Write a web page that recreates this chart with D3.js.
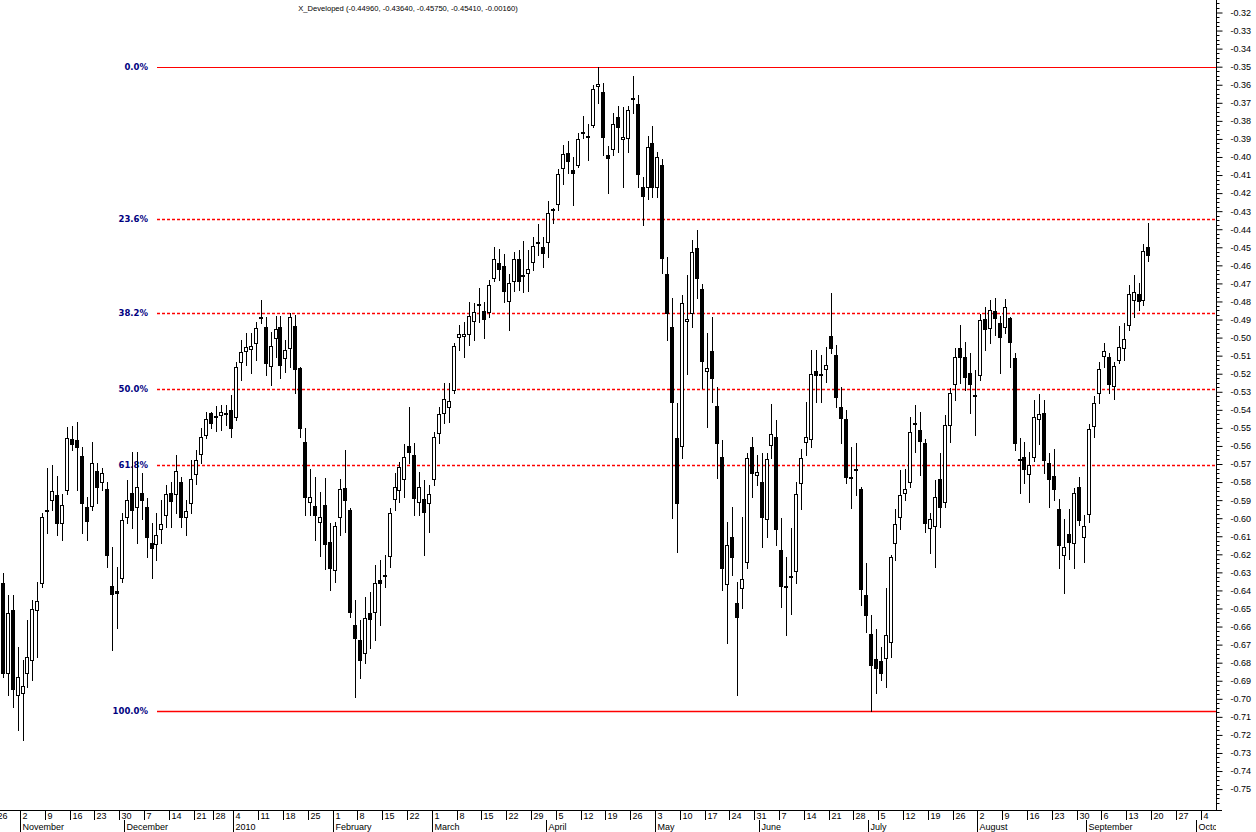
<!DOCTYPE html>
<html><head><meta charset="utf-8">
<script src="https://cdn.jsdelivr.net/npm/d3@7/dist/d3.min.js"></script>
<style>html,body{margin:0;padding:0;background:#fff;}svg{display:block;}</style>
</head><body>
<svg id="chart" width="1256" height="832"></svg>
<script>
const titleText = "X_Developed (-0.44960, -0.43640, -0.45750, -0.45410, -0.00160)";

const leadDates = ["2009-10-26"];
const candleDates = [
"2009-10-27","2009-10-28","2009-10-29","2009-10-30",
"2009-11-02","2009-11-03","2009-11-04","2009-11-05","2009-11-06",
"2009-11-09","2009-11-10","2009-11-11","2009-11-12","2009-11-13",
"2009-11-16","2009-11-17","2009-11-18","2009-11-19","2009-11-20",
"2009-11-23","2009-11-24","2009-11-25","2009-11-26","2009-11-27",
"2009-11-30","2009-12-01","2009-12-02","2009-12-03","2009-12-04",
"2009-12-07","2009-12-08","2009-12-09","2009-12-10","2009-12-11",
"2009-12-14","2009-12-15","2009-12-16","2009-12-17","2009-12-18",
"2009-12-21","2009-12-22","2009-12-23","2009-12-24",
"2009-12-28","2009-12-29","2009-12-30","2009-12-31",
"2010-01-04","2010-01-05","2010-01-06","2010-01-07","2010-01-08",
"2010-01-11","2010-01-12","2010-01-13","2010-01-14","2010-01-15",
"2010-01-18","2010-01-19","2010-01-20","2010-01-21","2010-01-22",
"2010-01-25","2010-01-26","2010-01-27","2010-01-28","2010-01-29",
"2010-02-01","2010-02-02","2010-02-03","2010-02-04","2010-02-05",
"2010-02-08","2010-02-09","2010-02-10","2010-02-11","2010-02-12",
"2010-02-15","2010-02-16","2010-02-17","2010-02-18","2010-02-19",
"2010-02-22","2010-02-23","2010-02-24","2010-02-25","2010-02-26",
"2010-03-01","2010-03-02","2010-03-03","2010-03-04","2010-03-05",
"2010-03-08","2010-03-09","2010-03-10","2010-03-11","2010-03-12",
"2010-03-15","2010-03-16","2010-03-17","2010-03-18","2010-03-19",
"2010-03-22","2010-03-23","2010-03-24","2010-03-25","2010-03-26",
"2010-03-29","2010-03-30","2010-03-31","2010-04-01","2010-04-02",
"2010-04-05","2010-04-06","2010-04-07","2010-04-08","2010-04-09",
"2010-04-12","2010-04-13","2010-04-14","2010-04-15","2010-04-16",
"2010-04-19","2010-04-20","2010-04-21","2010-04-22","2010-04-23",
"2010-04-26","2010-04-27","2010-04-28","2010-04-29","2010-04-30",
"2010-05-03","2010-05-04","2010-05-05","2010-05-06","2010-05-07",
"2010-05-10","2010-05-11","2010-05-12","2010-05-13","2010-05-14",
"2010-05-17","2010-05-18","2010-05-19","2010-05-20","2010-05-21",
"2010-05-24","2010-05-25","2010-05-26","2010-05-27","2010-05-28",
"2010-05-31","2010-06-01","2010-06-02","2010-06-03","2010-06-04",
"2010-06-07","2010-06-08","2010-06-09","2010-06-10","2010-06-11",
"2010-06-14","2010-06-15","2010-06-16","2010-06-17","2010-06-18",
"2010-06-21","2010-06-22","2010-06-23","2010-06-24","2010-06-25",
"2010-06-28","2010-06-29","2010-06-30","2010-07-01","2010-07-02",
"2010-07-05","2010-07-06","2010-07-07","2010-07-08","2010-07-09",
"2010-07-12","2010-07-13","2010-07-14","2010-07-15","2010-07-16",
"2010-07-19","2010-07-20","2010-07-21","2010-07-22","2010-07-23",
"2010-07-26","2010-07-27","2010-07-28","2010-07-29","2010-07-30",
"2010-08-02","2010-08-03","2010-08-04","2010-08-05","2010-08-06",
"2010-08-09","2010-08-10","2010-08-11","2010-08-12","2010-08-13",
"2010-08-16","2010-08-17","2010-08-18","2010-08-19","2010-08-20",
"2010-08-23","2010-08-24","2010-08-25","2010-08-26","2010-08-27",
"2010-08-30","2010-08-31","2010-09-01","2010-09-02","2010-09-03",
"2010-09-06","2010-09-07","2010-09-08","2010-09-09","2010-09-10",
"2010-09-13","2010-09-14","2010-09-15","2010-09-16","2010-09-17"
];
const trailDates = ["2010-09-20","2010-09-21","2010-09-22","2010-09-23","2010-09-24",
"2010-09-27","2010-09-28","2010-09-29","2010-09-30","2010-10-01",
"2010-10-04","2010-10-05","2010-10-06","2010-10-07","2010-10-08"];

const open = [
-0.6359,-0.6857,-0.6510,-0.6980,-0.6970,-0.6857,-0.6785,-0.6509,-0.6359,-0.5958,
-0.5899,-0.5871,-0.6027,-0.5844,-0.5562,-0.5568,-0.5657,-0.5938,-0.5932,-0.5740,
-0.5799,-0.5838,-0.6376,-0.6403,-0.6331,-0.5993,-0.5863,-0.5938,-0.5863,-0.5938,
-0.6138,-0.6143,-0.6060,-0.5982,-0.5863,-0.5866,-0.5799,-0.5993,-0.5916,-0.5756,
-0.5645,-0.5540,-0.5418,-0.5436,-0.5429,-0.5420,-0.5401,-0.5440,-0.5135,-0.5074,
-0.5063,-0.5030,-0.4890,-0.4941,-0.5157,-0.5002,-0.4941,-0.5113,-0.5058,-0.4936,
-0.5169,-0.5579,-0.5910,-0.5932,-0.6021,-0.5927,-0.6132,-0.6287,-0.5993,-0.5833,
-0.5955,-0.6592,-0.6675,-0.6747,-0.6525,-0.6520,-0.6342,-0.6317,-0.6210,-0.5893,
-0.5844,-0.5784,-0.5601,-0.5651,-0.5910,-0.5893,-0.5916,-0.5784,-0.5529,-0.5418,
-0.5385,-0.5291,-0.4997,-0.4991,-0.4980,-0.4908,-0.4817,-0.4853,-0.4858,-0.4671,
-0.4588,-0.4604,-0.4798,-0.4687,-0.4566,-0.4658,-0.4643,-0.4582,-0.4474,-0.4500,
-0.4472,-0.4291,-0.4261,-0.4062,-0.3978,-0.4073,-0.4045,-0.3864,-0.3886,-0.3823,
-0.3608,-0.3640,-0.3989,-0.3956,-0.3779,-0.3901,-0.3895,-0.3675,-0.3707,-0.4167,
-0.4167,-0.3923,-0.4167,-0.4045,-0.4650,-0.4941,-0.5557,-0.5601,-0.4908,-0.4864,
-0.4505,-0.4731,-0.5185,-0.5074,-0.5379,-0.5662,-0.6365,-0.6104,-0.6469,-0.6387,
-0.6243,-0.5607,-0.5762,-0.5799,-0.6004,-0.5596,-0.5551,-0.6176,-0.6378,-0.6322,
-0.6293,-0.5804,-0.5579,-0.5562,-0.5185,-0.5204,-0.5174,-0.4991,-0.5096,-0.5385,
-0.5451,-0.5775,-0.5731,-0.5840,-0.6425,-0.6642,-0.6780,-0.6791,-0.6774,-0.6686,
-0.6138,-0.5993,-0.5862,-0.5799,-0.5475,-0.5512,-0.5584,-0.6054,-0.6043,-0.5784,
-0.5910,-0.5484,-0.5257,-0.5058,-0.5108,-0.5196,-0.5320,-0.5207,-0.4897,-0.4947,
-0.4853,-0.4920,-0.4942,-0.4892,-0.5113,-0.5675,-0.5662,-0.5756,-0.5662,-0.5451,
-0.5418,-0.5696,-0.5767,-0.5949,-0.6204,-0.6088,-0.6138,-0.5827,-0.6104,-0.5977,
-0.5490,-0.5307,-0.5102,-0.5108,-0.5268,-0.5124,-0.5058,-0.4930,-0.4790,-0.4760,
-0.4790,-0.4496
];
const high = [
-0.6303,-0.6425,-0.6425,-0.6715,-0.6785,-0.6564,-0.6453,-0.6353,-0.5971,-0.5724,
-0.5707,-0.5766,-0.5865,-0.5496,-0.5490,-0.5468,-0.5606,-0.5883,-0.5579,-0.5695,
-0.5724,-0.5799,-0.6160,-0.6270,-0.5971,-0.5788,-0.5634,-0.5634,-0.5749,-0.5888,
-0.6027,-0.5971,-0.5900,-0.5816,-0.5799,-0.5651,-0.5771,-0.5900,-0.5679,-0.5623,
-0.5501,-0.5413,-0.5413,-0.5379,-0.5374,-0.5374,-0.5318,-0.5135,-0.5013,-0.4975,
-0.4975,-0.4913,-0.4793,-0.4886,-0.4969,-0.4880,-0.4880,-0.5013,-0.4864,-0.4875,
-0.5163,-0.5501,-0.5729,-0.5771,-0.5857,-0.5779,-0.6027,-0.6021,-0.5782,-0.5623,
-0.5944,-0.6453,-0.6564,-0.6436,-0.6409,-0.6260,-0.6232,-0.6204,-0.5944,-0.5749,
-0.5690,-0.5590,-0.5385,-0.5585,-0.5743,-0.5788,-0.5816,-0.5523,-0.5385,-0.5252,
-0.5252,-0.5030,-0.4930,-0.4913,-0.4804,-0.4809,-0.4727,-0.4804,-0.4681,-0.4500,
-0.4511,-0.4538,-0.4648,-0.4527,-0.4516,-0.4467,-0.4516,-0.4444,-0.4372,-0.4444,
-0.4244,-0.4283,-0.4067,-0.3934,-0.3912,-0.4001,-0.3868,-0.3773,-0.3818,-0.3602,
-0.3500,-0.3591,-0.3940,-0.3757,-0.3718,-0.3723,-0.3718,-0.3552,-0.3657,-0.4111,
-0.3884,-0.3829,-0.3973,-0.4012,-0.4555,-0.4781,-0.5363,-0.4764,-0.4654,-0.4461,
-0.4405,-0.4704,-0.4975,-0.4886,-0.5274,-0.5568,-0.6021,-0.5938,-0.6353,-0.5993,
-0.5640,-0.5551,-0.5651,-0.5640,-0.5640,-0.5368,-0.5457,-0.5999,-0.6215,-0.6054,
-0.5799,-0.5618,-0.5357,-0.5069,-0.5069,-0.5096,-0.5052,-0.4753,-0.5041,-0.5274,
-0.5401,-0.5607,-0.5584,-0.5827,-0.6248,-0.6536,-0.6614,-0.6713,-0.6387,-0.6204,
-0.5949,-0.5733,-0.5729,-0.5440,-0.5374,-0.5412,-0.5562,-0.5971,-0.5788,-0.5640,
-0.5429,-0.5279,-0.5058,-0.4930,-0.5024,-0.5085,-0.5180,-0.4870,-0.4831,-0.4792,
-0.4782,-0.4881,-0.4787,-0.4886,-0.5085,-0.5557,-0.5579,-0.5634,-0.5346,-0.5313,
-0.5346,-0.5640,-0.5618,-0.5893,-0.6004,-0.5949,-0.5832,-0.5771,-0.5982,-0.5479,
-0.5324,-0.5135,-0.5030,-0.5085,-0.5135,-0.4936,-0.4919,-0.4709,-0.4653,-0.4700,
-0.4480,-0.4364
];
const low = [
-0.6879,-0.6980,-0.7045,-0.7174,-0.7230,-0.6935,-0.6896,-0.6768,-0.6381,-0.6082,
-0.5955,-0.6093,-0.6121,-0.5866,-0.5623,-0.5844,-0.6082,-0.6121,-0.5955,-0.5916,
-0.5844,-0.6270,-0.6730,-0.6608,-0.6353,-0.6027,-0.6054,-0.6138,-0.6004,-0.6215,
-0.6331,-0.6232,-0.6138,-0.6049,-0.6049,-0.5971,-0.6049,-0.6093,-0.5971,-0.5808,
-0.5696,-0.5557,-0.5501,-0.5518,-0.5512,-0.5484,-0.5551,-0.5457,-0.5235,-0.5152,
-0.5196,-0.5124,-0.4920,-0.5207,-0.5262,-0.5108,-0.5224,-0.5190,-0.5163,-0.5307,
-0.5551,-0.5982,-0.5982,-0.6121,-0.6210,-0.6282,-0.6398,-0.6353,-0.6093,-0.6077,
-0.6548,-0.6990,-0.6885,-0.6802,-0.6720,-0.6675,-0.6592,-0.6381,-0.6270,-0.5955,
-0.5910,-0.5882,-0.5696,-0.5982,-0.5982,-0.6204,-0.6077,-0.5816,-0.5584,-0.5473,
-0.5468,-0.5307,-0.5069,-0.5108,-0.5041,-0.5013,-0.4914,-0.5002,-0.4886,-0.4687,
-0.4681,-0.4804,-0.4958,-0.4742,-0.4737,-0.4748,-0.4742,-0.4627,-0.4544,-0.4610,
-0.4555,-0.4366,-0.4294,-0.4150,-0.4089,-0.4267,-0.4056,-0.3895,-0.4017,-0.3834,
-0.3701,-0.3989,-0.4200,-0.3989,-0.3973,-0.4167,-0.3973,-0.3757,-0.4167,-0.4378,
-0.4233,-0.4222,-0.4222,-0.4643,-0.5013,-0.5999,-0.6188,-0.5668,-0.5202,-0.4941,
-0.4781,-0.5279,-0.5496,-0.5357,-0.5778,-0.6398,-0.6692,-0.6315,-0.6979,-0.6497,
-0.6276,-0.5884,-0.5816,-0.6160,-0.6104,-0.5668,-0.6149,-0.6492,-0.6647,-0.6531,
-0.6359,-0.5949,-0.5651,-0.5607,-0.5357,-0.5357,-0.5246,-0.5085,-0.5385,-0.5584,
-0.5806,-0.5944,-0.5873,-0.6481,-0.6630,-0.7068,-0.6968,-0.6896,-0.6935,-0.6769,
-0.6232,-0.6060,-0.5899,-0.5827,-0.5634,-0.5762,-0.6077,-0.6193,-0.6270,-0.6049,
-0.5938,-0.5579,-0.5346,-0.5252,-0.5290,-0.5418,-0.5540,-0.5235,-0.5069,-0.5030,
-0.4986,-0.5196,-0.4975,-0.5163,-0.5623,-0.5860,-0.5806,-0.5910,-0.5684,-0.5590,
-0.5751,-0.5938,-0.5899,-0.6276,-0.6415,-0.6226,-0.6276,-0.6038,-0.6243,-0.6021,
-0.5551,-0.5363,-0.5163,-0.5307,-0.5340,-0.5141,-0.5124,-0.4958,-0.4886,-0.4850,
-0.4820,-0.4575
];
const close = [
-0.6857,-0.6525,-0.6950,-0.6880,-0.6930,-0.6767,-0.6503,-0.6459,-0.5993,-0.5952,
-0.5850,-0.6027,-0.5927,-0.5557,-0.5590,-0.5606,-0.5916,-0.6016,-0.5695,-0.5827,
-0.5749,-0.6204,-0.6420,-0.6414,-0.6010,-0.5900,-0.5955,-0.5827,-0.5899,-0.6104,
-0.6165,-0.6093,-0.6032,-0.5866,-0.5910,-0.5740,-0.5993,-0.5960,-0.5783,-0.5679,
-0.5551,-0.5451,-0.5473,-0.5432,-0.5412,-0.5424,-0.5501,-0.5163,-0.5080,-0.5052,
-0.5046,-0.4946,-0.4886,-0.5141,-0.5046,-0.4952,-0.5152,-0.5069,-0.4888,-0.5174,
-0.5501,-0.5882,-0.5882,-0.5982,-0.5993,-0.6143,-0.6276,-0.6043,-0.5838,-0.5899,
-0.6520,-0.6664,-0.6786,-0.6553,-0.6559,-0.6359,-0.6359,-0.6313,-0.5971,-0.5827,
-0.5717,-0.5662,-0.5634,-0.5888,-0.5827,-0.5966,-0.5866,-0.5551,-0.5423,-0.5340,
-0.5351,-0.5046,-0.4980,-0.4980,-0.4880,-0.4858,-0.4813,-0.4897,-0.4709,-0.4566,
-0.4621,-0.4742,-0.4698,-0.4566,-0.4687,-0.4654,-0.4621,-0.4494,-0.4470,-0.4533,
-0.4311,-0.4287,-0.4095,-0.3984,-0.4023,-0.4089,-0.3901,-0.3860,-0.3882,-0.3624,
-0.3596,-0.3890,-0.4006,-0.3818,-0.3834,-0.3890,-0.3740,-0.3671,-0.4095,-0.4217,
-0.3945,-0.4167,-0.4000,-0.4559,-0.4866,-0.5357,-0.5916,-0.4808,-0.4897,-0.4527,
-0.4671,-0.5130,-0.5169,-0.5224,-0.5584,-0.6277,-0.6149,-0.6215,-0.6547,-0.6337,
-0.5668,-0.5751,-0.5745,-0.5993,-0.5673,-0.5535,-0.6060,-0.6376,-0.6374,-0.6318,
-0.5866,-0.5668,-0.5551,-0.5202,-0.5207,-0.5200,-0.5152,-0.5058,-0.5329,-0.5446,
-0.5773,-0.5771,-0.5727,-0.6393,-0.6536,-0.6813,-0.6830,-0.6857,-0.6648,-0.6215,
-0.6032,-0.5871,-0.5840,-0.5523,-0.5471,-0.5573,-0.6027,-0.6004,-0.5882,-0.5938,
-0.5484,-0.5307,-0.5108,-0.5108,-0.5218,-0.5257,-0.5316,-0.4903,-0.4953,-0.4848,
-0.4892,-0.4997,-0.4831,-0.5024,-0.5584,-0.5671,-0.5729,-0.5706,-0.5440,-0.5423,
-0.5679,-0.5784,-0.5838,-0.6149,-0.6160,-0.6132,-0.5860,-0.6010,-0.6043,-0.5506,
-0.5363,-0.5174,-0.5074,-0.5257,-0.5157,-0.5052,-0.5008,-0.4759,-0.4745,-0.4800,
-0.4520,-0.4541
];

const yTicks = [-0.32,-0.33,-0.34,-0.35,-0.36,-0.37,-0.38,-0.39,-0.40,-0.41,-0.42,-0.43,-0.44,-0.45,-0.46,-0.47,-0.48,-0.49,-0.50,-0.51,-0.52,-0.53,-0.54,-0.55,-0.56,-0.57,-0.58,-0.59,-0.60,-0.61,-0.62,-0.63,-0.64,-0.65,-0.66,-0.67,-0.68,-0.69,-0.70,-0.71,-0.72,-0.73,-0.74,-0.75];
const fibLevels = [0, 23.6, 38.2, 50.0, 61.8, 100.0];
const fibLabels = ["0.0%","23.6%","38.2%","50.0%","61.8%","100.0%"];
const fibTop = -0.3500, fibBottom = -0.7068;
const monthNames = ["2010","February","March","April","May","June","July","August","September","October","November","December"];

// ---------- layout ----------
const W = 1256, H = 832;
const plotRight = 1216, plotBottom = 810;
const svg = d3.select("#chart");

const parse = d3.utcParse("%Y-%m-%d");
const allDates = [...leadDates, ...candleDates, ...trailDates].map(parse);
const offset = leadDates.length;
const step = 4.96;

const x = d3.scaleLinear().domain([0, allDates.length - 1]).range([-2.26, -2.26 + (allDates.length - 1) * step]);
const y = d3.scaleLinear().domain([-0.32, -0.75]).range([12.5, 789.1]);

const defs = svg.append("defs");
defs.append("clipPath").attr("id","plotclip")
  .append("rect").attr("x",0).attr("y",0).attr("width",plotRight).attr("height",plotBottom);
defs.append("clipPath").attr("id","axisclip")
  .append("rect").attr("x",0).attr("y",plotBottom).attr("width",plotRight).attr("height",H-plotBottom);

// title
svg.append("text").attr("x", 408).attr("y", 11).attr("text-anchor","middle")
  .attr("font-family","'Liberation Sans', Arial, sans-serif").attr("font-size", 7.6).attr("fill","#000")
  .text(titleText);

// fibonacci levels
const fibY = p => y(fibTop + (fibBottom - fibTop) * p / 100);
const fibWidth = p => p === 0 ? 1 : (p === 100 ? 1.5 : 1.6);
const fg = svg.append("g");
fibLevels.forEach((p, i) => {
  const yy = Math.round(fibY(p)) + 0.5;
  const solid = (p === 0 || p === 100);
  fg.append("line").attr("x1", 157).attr("x2", plotRight).attr("y1", yy).attr("y2", yy)
    .attr("stroke", "#ff0000").attr("stroke-width", fibWidth(p))
    .attr("stroke-dasharray", solid ? null : "3,2");
  fg.append("text").attr("x", 148).attr("y", yy).attr("dy","0.35em").attr("text-anchor","end")
    .attr("font-family","'DejaVu Sans', Verdana, sans-serif").attr("font-weight","bold")
    .attr("font-size", 8.5).attr("fill","#000080").text(fibLabels[i]);
});

// candles
const candles = candleDates.map((d, i) => ({i: i + offset, o: open[i], h: high[i], l: low[i], c: close[i]}));
const cg = svg.append("g").attr("clip-path","url(#plotclip)");
const cx = d => Math.round(x(d.i)) + 0.5;
cg.selectAll("line.wick").data(candles).join("line").attr("class","wick")
  .attr("x1", cx).attr("x2", cx)
  .attr("y1", d => Math.round(y(d.h))).attr("y2", d => Math.round(y(d.l)) + 1)
  .attr("stroke","#000").attr("stroke-width",1);
cg.selectAll("rect.body").data(candles).join("rect").attr("class","body")
  .attr("x", d => cx(d) - 2)
  .attr("y", d => Math.round(y(Math.max(d.o, d.c))) + 0.5)
  .attr("width", 3)
  .attr("height", d => Math.max(0, Math.round(Math.abs(y(d.o) - y(d.c)))))
  .attr("fill", d => d.c < d.o ? "#000" : "#fff")
  .attr("stroke","#000").attr("stroke-width",1);

// right axis
const ax = svg.append("g").attr("transform", `translate(${plotRight + 0.5},0)`);
ax.call(d3.axisRight(y).tickValues(yTicks).tickFormat(d => d.toFixed(2)).tickSize(6).tickPadding(8))
  .call(g => g.select(".domain").remove())
  .call(g => g.selectAll("text").attr("font-family","'Liberation Sans', Arial, sans-serif").attr("font-size",9).attr("fill","#000"))
  .call(g => g.selectAll("line").attr("stroke","#000"));
const minor = d3.range(-0.3125, -0.7600, -0.0025).filter(v => Math.abs(Math.round(v * 100) - v * 100) > 0.01);
ax.selectAll("line.minor").data(minor).join("line").attr("class","minor")
  .attr("x1",0).attr("x2",3).attr("y1", d => Math.round(y(d)) + 0.5).attr("y2", d => Math.round(y(d)) + 0.5)
  .attr("stroke","#000");
svg.append("line").attr("x1", plotRight + 0.5).attr("x2", plotRight + 0.5).attr("y1", 0).attr("y2", plotBottom + 1)
  .attr("stroke","#000");
svg.append("line").attr("x1", plotRight).attr("x2", plotRight + 6).attr("y1", plotBottom + 0.5).attr("y2", plotBottom + 0.5).attr("stroke","#000");

// bottom date axis
svg.append("line").attr("x1", 0).attr("x2", plotRight + 1).attr("y1", plotBottom + 0.5).attr("y2", plotBottom + 0.5).attr("stroke","#000");
const bg = svg.append("g").attr("clip-path","url(#axisclip)");
const weekStarts = allDates.map((d, i) => ({d, i})).filter(({d, i}) => i === 0 || d.getUTCDay() < allDates[i - 1].getUTCDay());
const monthStarts = allDates.map((d, i) => ({d, i})).filter(({d, i}) => i > 0 && d.getUTCMonth() !== allDates[i - 1].getUTCMonth());
const bx = i => Math.round(x(i) - step / 2) + 0.5;
bg.selectAll("line.wk").data(weekStarts).join("line").attr("class","wk")
  .attr("x1", d => bx(d.i)).attr("x2", d => bx(d.i)).attr("y1", plotBottom).attr("y2", plotBottom + 10)
  .attr("stroke","#000");
bg.selectAll("text.wk").data(weekStarts).join("text").attr("class","wk")
  .attr("x", d => bx(d.i) + 2).attr("y", plotBottom + 9)
  .attr("font-family","'Liberation Sans', Arial, sans-serif").attr("font-size",9).attr("fill","#000")
  .text(d => d.d.getUTCDate());
bg.selectAll("line.mo").data(monthStarts).join("line").attr("class","mo")
  .attr("x1", d => bx(d.i)).attr("x2", d => bx(d.i)).attr("y1", plotBottom + 10).attr("y2", H)
  .attr("stroke","#000");
bg.selectAll("text.mo").data(monthStarts).join("text").attr("class","mo")
  .attr("x", d => bx(d.i) + 2).attr("y", plotBottom + 20)
  .attr("font-family","'Liberation Sans', Arial, sans-serif").attr("font-size",9).attr("fill","#000")
  .text(d => d.d.getUTCMonth() === 0 ? String(d.d.getUTCFullYear()) : monthNames[d.d.getUTCMonth()]);
</script>
</body></html>
